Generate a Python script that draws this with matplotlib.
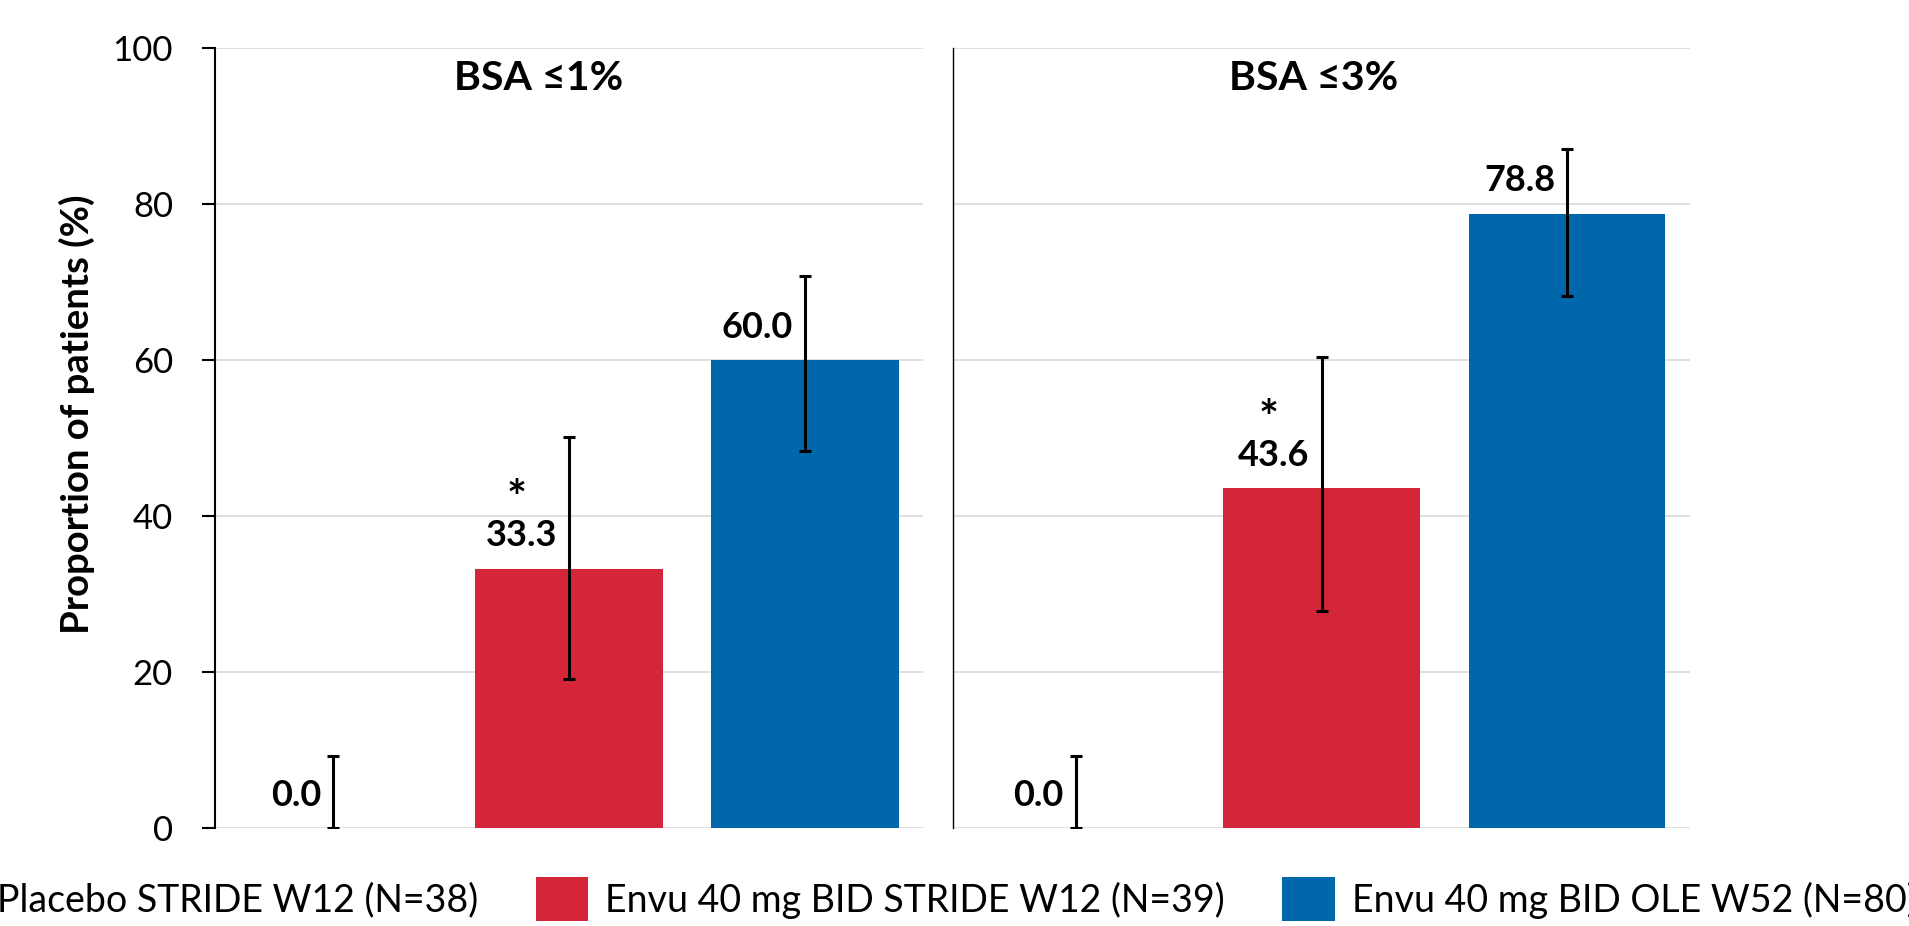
import matplotlib.pyplot as plt
import numpy as np


# Treatment arms, shared by both panels
arms = [
    "Placebo STRIDE W12 (N=38)",
    "Envu 40 mg BID STRIDE W12 (N=39)",
    "Envu 40 mg BID OLE W52 (N=80)",
]
arm_colors = ["#A5A5A5", "#D52639", "#0068AA"]
significant = [False, True, False]

# BSA <=1% responders (%), with 95% CI bounds
bsa1_pct = [0.0, 33.3, 60.0]
bsa1_lower = [0.0, 19.1, 48.4]
bsa1_upper = [9.3, 50.2, 70.8]

# BSA <=3% responders (%), with 95% CI bounds
bsa3_pct = [0.0, 43.6, 78.8]
bsa3_lower = [0.0, 27.8, 68.2]
bsa3_upper = [9.3, 60.4, 87.1]

panel_titles = ["BSA ≤1%", "BSA ≤3%"]
y_ticks = [0, 20, 40, 60, 80, 100]

plt.rcParams["font.family"] = ["Lato", "DejaVu Sans"]

fig = plt.figure(figsize=(19.09, 9.26), dpi=100)
ax_left = fig.add_axes([0.1126, 0.1055, 0.3709, 0.8423])
ax_right = fig.add_axes([0.4992, 0.1055, 0.3861, 0.8423])

x = np.arange(len(arms))
panels = [
    (ax_left, panel_titles[0], bsa1_pct, bsa1_lower, bsa1_upper, 0.4576),
    (ax_right, panel_titles[1], bsa3_pct, bsa3_lower, bsa3_upper, 0.4898),
]

bar_handles = None
for ax, title, pct, lower, upper, title_x in panels:
    pct = np.array(pct)
    yerr = [pct - np.array(lower), np.array(upper) - pct]

    bars = ax.bar(x, pct, width=0.8, color=arm_colors, zorder=2)
    ax.errorbar(x, pct, yerr=yerr, fmt="none", ecolor="black",
                elinewidth=2.2, capsize=4.3, capthick=2.2, zorder=3)
    if bar_handles is None:
        bar_handles = [bars[i] for i in range(len(arms))]

    # Value labels sit to the left of the error bar
    for xi, val, star in zip(x, pct, significant):
        ax.annotate(f"{val:.1f}", (xi, val), xytext=(-8.6, 16.2),
                    textcoords="offset points", ha="right", va="baseline",
                    fontsize=26, fontweight="bold")
        if star:
            ax.annotate("*", (xi, val), xytext=(-38, 39),
                        textcoords="offset points", ha="center", va="baseline",
                        fontsize=34, fontweight="bold")

    ax.text(title_x, 0.9465, title, transform=ax.transAxes, ha="center",
            va="baseline", fontsize=29.5, fontweight="bold")

    ax.set_xlim(-0.5, 2.5)
    ax.set_ylim(0, 100)
    ax.set_yticks(y_ticks)
    ax.set_xticks([])
    ax.yaxis.grid(True, color="#D9D9D9", linewidth=1.2)
    ax.set_axisbelow(True)
    for side in ["top", "right", "bottom"]:
        ax.spines[side].set_visible(False)

# Left panel carries the y axis
ax_left.spines["left"].set_linewidth(1.5)
ax_left.tick_params(axis="y", length=9.6, width=1.5, pad=20.6, labelsize=25)

# Right panel: plain divider line, no ticks
ax_right.spines["left"].set_linewidth(1.0)
ax_right.tick_params(axis="y", left=False, labelleft=False)

fig.text(0.0403, 0.5524, "Proportion of patients (%)", rotation=90,
         ha="center", va="center", fontsize=27.5, fontweight="bold")

fig.legend(bar_handles, arms, loc="center", bbox_to_anchor=(0.483, 0.029),
           ncol=3, frameon=False, fontsize=27, handlelength=1.41,
           handleheight=1.41, handletextpad=0.45, columnspacing=1.52,
           borderpad=0, borderaxespad=0)

fig.savefig("out.png", dpi=100)
